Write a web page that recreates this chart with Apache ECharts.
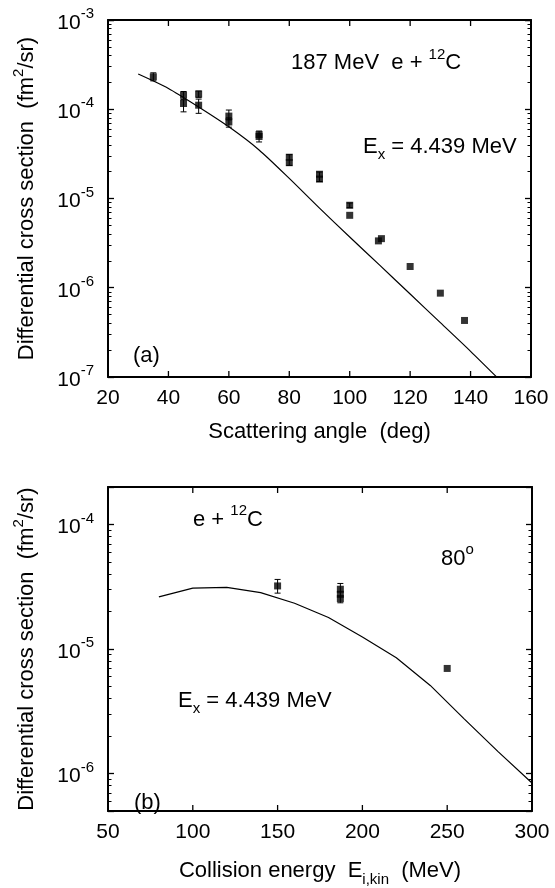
<!DOCTYPE html>
<html><head><meta charset="utf-8">
<script src="https://cdn.jsdelivr.net/npm/echarts@6/dist/echarts.min.js"></script>
<style>html,body{margin:0;padding:0;background:#fff}#c{width:555px;height:888px}</style>
</head><body><div id="c"></div>
<script>
// ---------- Panel (a): 187 MeV e + 12C, Ex = 4.439 MeV, vs scattering angle ----------
const angleCurve = [30, 40, 50, 60, 70, 80, 90, 100, 110, 120, 130, 140, 150];
const xsecCurveA = [2.48e-4, 1.71e-4, 1.06e-4, 6.35e-5, 3.5e-5, 1.68e-5, 7.8e-6, 3.7e-6, 1.78e-6, 8.5e-7, 4.06e-7, 1.94e-7, 9e-8];
const angleData = [35, 45, 45, 50, 50, 60, 60, 70, 70, 80, 80, 90, 90, 100, 100, 109.5, 110.5, 120, 130, 138];
const xsecDataA = [2.31e-4, 1.44e-4, 1.16e-4, 1.48e-4, 1.11e-4, 8.38e-5, 7.2e-5, 5.2e-5, 4.95e-5, 2.9e-5, 2.52e-5, 1.87e-5, 1.65e-5, 8.4e-6, 6.48e-6, 3.35e-6, 3.55e-6, 1.73e-6, 8.7e-7, 4.3e-7];
const angleErr = [35, 45, 45, 50, 50, 60, 60, 70, 80, 90, 100];
const errLowA  = [2.08e-4, 1.30e-4, 9.35e-5, 1.36e-4, 9.0e-5, 7.6e-5, 6.3e-5, 4.3e-5, 2.35e-5, 1.55e-5, 7.9e-6];
const errHighA = [2.56e-4, 1.58e-4, 1.28e-4, 1.60e-4, 1.3e-4, 9.8e-5, 8.0e-5, 5.7e-5, 3.1e-5, 1.98e-5, 8.9e-6];
const angleTicks = [20, 160, 20];           // min, max, step
const angleTickVals = [40, 60, 80, 100, 120, 140];
const yRangeA = [1e-7, 1e-3];

// ---------- Panel (b): 80 deg, vs collision energy ----------
const energyCurve = [80, 100, 120, 140, 160, 180, 200, 220, 240, 260, 280, 300];
const xsecCurveB  = [2.62e-5, 3.08e-5, 3.13e-5, 2.84e-5, 2.33e-5, 1.79e-5, 1.25e-5, 8.5e-6, 5.1e-6, 2.75e-6, 1.5e-6, 8.4e-7];
const energyData  = [150, 187, 187, 187, 250];
const xsecDataB   = [3.21e-5, 3.02e-5, 2.75e-5, 2.54e-5, 6.98e-6];
const energyErr   = [150, 187];
const errLowB     = [2.81e-5, 2.35e-5];
const errHighB    = [3.62e-5, 3.36e-5];
const energyTicks = [50, 300, 50];
const energyTickVals = [100, 150, 200, 250];
const yRangeB = [5e-7, 2e-4];

const F = '"Liberation Sans", Arial, Helvetica, sans-serif';
const BIG = 22, TICK = 21, SMALL = 15;
const richSup = {
  a: {fontSize: BIG, fontFamily: F, color: '#000', fill: '#000', verticalAlign: 'bottom'},
  s: {fontSize: SMALL, fontFamily: F, color: '#000', fill: '#000', verticalAlign: 'top', padding: [0, 0, 12, 0]}
};
const richSub = {
  a: {fontSize: BIG, fontFamily: F, color: '#000', fill: '#000', verticalAlign: 'top'},
  d: {fontSize: SMALL, fontFamily: F, color: '#000', fill: '#000', verticalAlign: 'bottom', padding: [12, 0, 0, 0]}
};
const richTick = {
  b: {fontSize: TICK, fontFamily: F, color: '#000', verticalAlign: 'bottom'},
  s: {fontSize: SMALL, fontFamily: F, color: '#000', verticalAlign: 'top', padding: [0, 0, 12, 0]}
};
function powLabel(v) {
  const e = Math.log10(v), r = Math.round(e);
  if (Math.abs(e - r) > 1e-6) return '';
  return '{b|10}{s|' + r + '}';
}
const zip = (xs, ys) => xs.map((x, i) => [x, ys[i]]);
const zip3 = (xs, lo, hi) => xs.map((x, i) => [x, lo[i], hi[i]]);

function xAx(grid, t, pos, name, gap) {
  return {
    gridIndex: grid, type: 'value', min: t[0], max: t[1], interval: t[2], position: pos,
    axisLine: {show: true, lineStyle: {color: '#000', width: 2}},
    axisTick: {show: false},
    axisLabel: pos === 'bottom' ? {show: true, fontSize: TICK, fontFamily: F, color: '#000', margin: 11} : {show: false},
    splitLine: {show: false},
    name: name || '', nameLocation: 'middle', nameGap: gap || 0,
    nameTextStyle: {rich: richSub, fontSize: BIG, fontFamily: F, color: '#000'}
  };
}
function yAx(grid, r, pos, name) {
  return {
    gridIndex: grid, type: 'log', logBase: 10, min: r[0], max: r[1], position: pos,
    axisLine: {show: true, lineStyle: {color: '#000', width: 2}},
    axisTick: {show: true, inside: true, length: 6, lineStyle: {color: '#000', width: 1.3}},
    minorTick: {show: true, splitNumber: 9, length: 3.5, lineStyle: {color: '#000', width: 1}},
    axisLabel: pos === 'left' ? {show: true, formatter: powLabel, rich: richTick, margin: 14} : {show: false},
    splitLine: {show: false},
    name: name || '', nameLocation: 'middle', nameGap: 70,
    nameTextStyle: {rich: richSup, fontSize: BIG, fontFamily: F, color: '#000'}
  };
}

function errRender(params, api) {
  const x = api.value(0);
  const pLo = api.coord([x, api.value(1)]);
  const pHi = api.coord([x, api.value(2)]);
  const st = {stroke: '#000', lineWidth: 1};
  return {type: 'group', children: [
    {type: 'line', shape: {x1: pLo[0], y1: pLo[1], x2: pHi[0], y2: pHi[1]}, style: st},
    {type: 'line', shape: {x1: pLo[0] - 3, y1: pLo[1], x2: pLo[0] + 3, y2: pLo[1]}, style: st},
    {type: 'line', shape: {x1: pHi[0] - 3, y1: pHi[1], x2: pHi[0] + 3, y2: pHi[1]}, style: st}
  ]};
}
// inward x ticks on bottom and top frame
function xTickRender(yr) {
  return function (params, api) {
    const v = api.value(0);
    const pb = api.coord([v, yr[0]]);
    const pt = api.coord([v, yr[1]]);
    const st = {stroke: '#000', lineWidth: 1.3};
    return {type: 'group', children: [
      {type: 'line', shape: {x1: pb[0], y1: pb[1], x2: pb[0], y2: pb[1] - 6}, style: st},
      {type: 'line', shape: {x1: pt[0], y1: pt[1], x2: pt[0], y2: pt[1] + 6}, style: st}
    ]};
  };
}

function txt(x, y, text, rich) {
  return {type: 'text', x: x, y: y, z: 100,
    style: {text: text, rich: rich, font: BIG + 'px ' + F, fill: '#000', align: 'left', verticalAlign: 'middle'}};
}

const chart = echarts.init(document.getElementById('c'));
chart.setOption({
  animation: false,
  backgroundColor: '#fff',
  grid: [
    {left: 108, top: 20, width: 423, height: 357},
    {left: 108, top: 487, width: 424, height: 335}
  ],
  xAxis: [
    xAx(0, angleTicks, 'bottom', '{a|Scattering angle  (deg)}', 44),
    xAx(0, angleTicks, 'top'),
    xAx(1, energyTicks, 'bottom', '{a|Collision energy  E}{d|i,kin}{a|  (MeV)}', 49),
    xAx(1, energyTicks, 'top')
  ],
  yAxis: [
    yAx(0, yRangeA, 'left', '{a|Differential cross section  (fm}{s|2}{a|/sr)}'),
    yAx(0, yRangeA, 'right'),
    yAx(1, yRangeB, 'left', '{a|Differential cross section  (fm}{s|2}{a|/sr)}'),
    yAx(1, yRangeB, 'right')
  ],
  series: [
    {type: 'custom', xAxisIndex: 0, yAxisIndex: 0, renderItem: xTickRender(yRangeA),
      data: angleTickVals.map(v => [v, yRangeA[0]]), encode: {x: 0, y: 1}, silent: true, z: 6},
    {type: 'custom', xAxisIndex: 2, yAxisIndex: 2, renderItem: xTickRender(yRangeB),
      data: energyTickVals.map(v => [v, yRangeB[0]]), encode: {x: 0, y: 1}, silent: true, z: 6},
    {type: 'line', xAxisIndex: 0, yAxisIndex: 0, data: zip(angleCurve, xsecCurveA), showSymbol: false, clip: true,
      smooth: 0.25, lineStyle: {color: '#000', width: 1.2}},
    {type: 'line', xAxisIndex: 2, yAxisIndex: 2, data: zip(energyCurve, xsecCurveB), showSymbol: false, clip: true,
      lineStyle: {color: '#000', width: 1.2}},
    {type: 'custom', xAxisIndex: 0, yAxisIndex: 0, renderItem: errRender, data: zip3(angleErr, errLowA, errHighA), encode: {x: 0, y: [1, 2]}, z: 3},
    {type: 'custom', xAxisIndex: 2, yAxisIndex: 2, renderItem: errRender, data: zip3(energyErr, errLowB, errHighB), encode: {x: 0, y: [1, 2]}, z: 3},
    {type: 'scatter', xAxisIndex: 0, yAxisIndex: 0, data: zip(angleData, xsecDataA), symbol: 'rect', symbolSize: 7,
      itemStyle: {color: '#000'}, z: 4},
    {type: 'scatter', xAxisIndex: 2, yAxisIndex: 2, data: zip(energyData, xsecDataB), symbol: 'rect', symbolSize: 7,
      itemStyle: {color: '#000'}, z: 4}
  ],
  graphic: [
    txt(291, 60.5, '{a|187 MeV  e + }{s|12}{a|C}', richSup),
    txt(363, 149, '{a|E}{d|x}{a| = 4.439 MeV}', richSub),
    txt(133, 356, '{a|(a)}', richSup),
    txt(193, 517, '{a|e + }{s|12}{a|C}', richSup),
    txt(441, 556, '{a|80}{s|o}', richSup),
    txt(178, 703, '{a|E}{d|x}{a| = 4.439 MeV}', richSub),
    txt(134, 803, '{a|(b)}', richSup)
  ]
});
</script></body></html>
